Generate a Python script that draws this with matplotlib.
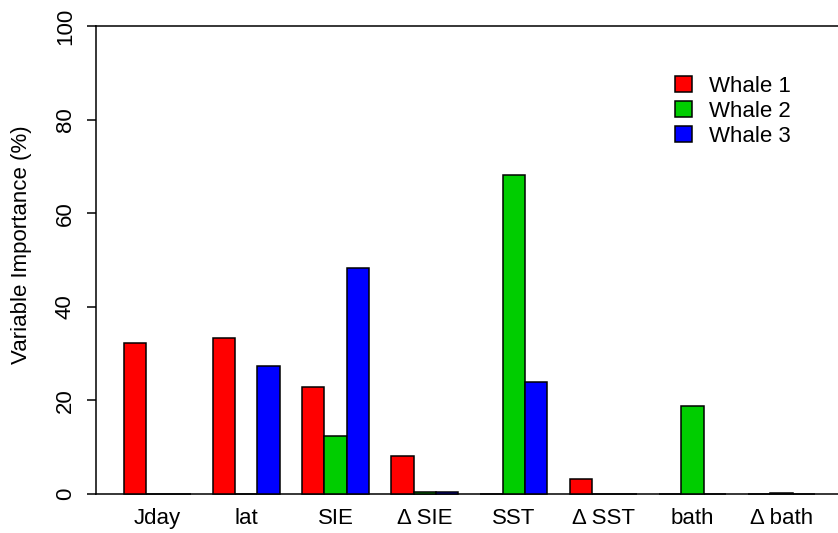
import matplotlib
matplotlib.use("Agg")
import matplotlib.pyplot as plt
import numpy as np
from matplotlib.patches import Patch

plt.rcParams['font.family'] = ['Liberation Sans', 'DejaVu Sans']

variables = ['Jday', 'lat', 'SIE', '\u0394 SIE', 'SST', '\u0394 SST', 'bath', '\u0394 bath']
whale1 = [32.2, 33.4, 22.8, 8.2, 0.0, 3.2, 0.0, 0.0]
whale2 = [0.0, 0.0, 12.3, 0.5, 68.2, 0.0, 18.7, 0.3]
whale3 = [0.0, 27.4, 48.2, 0.35, 23.9, 0.0, 0.0, 0.0]
series = ['Whale 1', 'Whale 2', 'Whale 3']
colours = ['#FF0000', '#00CD00', '#0000FF']

fs = 16
W, H = 838, 533
fig = plt.figure(figsize=(W / 100, H / 100), dpi=100)
ax = fig.add_axes([96 / W, (H - 494) / H, 742 / W, 468 / H])

# R style barplot, beside=TRUE: one unit per bar, one unit gap before each group
group_start = np.arange(len(variables)) * 4 + 1
for i, vals in enumerate([whale1, whale2, whale3]):
    ax.bar(group_start + i, vals, width=1, align='edge', color=colours[i],
           edgecolor='black', linewidth=1.1, clip_on=False, zorder=3)

ax.set_xlim(-0.24, 33.03)
ax.set_ylim(0, 100)

ax.spines['right'].set_visible(False)
for s in ['left', 'top', 'bottom']:
    ax.spines[s].set_linewidth(1.1)

ax.set_yticks([0, 20, 40, 60, 80, 100])
ax.set_yticklabels(['0', '20', '40', '60', '80', '100'], rotation=90, va='center', fontsize=fs)
ax.tick_params(axis='y', length=6.5, width=1.1, pad=8)

ax.set_xticks(group_start + 1.5)
ax.set_xticklabels(variables, fontsize=fs)
ax.tick_params(axis='x', length=0, pad=10)

fig.text(22 / W, (H - 245) / H, 'Variable Importance (%)', rotation=90,
         ha='center', va='center', fontsize=fs)

handles = [Patch(facecolor=c, edgecolor='black', linewidth=1.1) for c in colours]
ax.legend(handles, series, loc='upper left', bbox_to_anchor=(675 / W, 1 - 76 / H),
          bbox_transform=fig.transFigure, frameon=False, fontsize=fs,
          handlelength=0.75, handleheight=0.7, handletextpad=0.8,
          labelspacing=0.18, borderpad=0, borderaxespad=0)

fig.savefig('out.png', dpi=100)
